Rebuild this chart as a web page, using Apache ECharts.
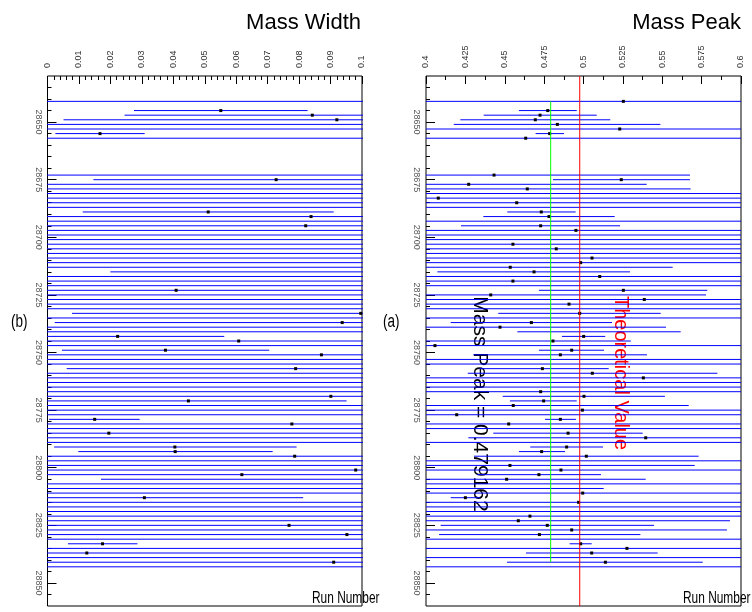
<!DOCTYPE html>
<html>
<head>
<meta charset="utf-8">
<script src="https://cdn.jsdelivr.net/npm/echarts@6/dist/echarts.min.js"></script>
<style>html,body{margin:0;padding:0;background:#fff}#c{width:752px;height:612px}</style>
</head>
<body>
<div id="c"></div>
<script>
// ---------------- data ----------------
const runs = [28641,28645,28647,28649,28651,28653,28655,28657,
  28673,28675,28677,28679,28681,28683,28685,28687,28689,28691,28693,28695,28697,28699,
  28701,28703,28705,28707,28709,28711,28713,28715,28717,28719,28721,28723,28725,28727,28729,
  28731,28733,28735,28737,28739,28741,28743,28745,28747,28749,28751,28753,28755,28757,28759,
  28761,28763,28765,28767,28769,28771,28773,28775,28777,28779,28781,28783,28785,28787,28789,
  28791,28793,28795,28797,28799,28801,28803,28805,28807,28809,28811,28813,28815,28817,28819,
  28821,28823,28825,28827,28829,28831,28833,28835,28837,28839,28841,28843];

// Mass peak (a): value (null = off chart), lower and upper ends of error bar
const peakVal = [0.5253,0.4773,0.4724,0.4694,0.4834,0.523,0.4785,0.4633,
  0.4432,0.524,0.4271,0.4643,null,0.4078,0.4576,null,0.4732,0.4781,null,0.4728,0.4952,null,
  null,0.4552,0.4827,null,0.5054,0.4982,0.4535,0.4686,0.5103,0.4552,null,0.5253,0.4411,0.5386,0.4908,
  null,0.4976,null,0.4669,0.447,null,0.5001,0.4806,0.4057,0.4925,0.4853,null,null,0.4739,0.5056,
  0.538,null,null,0.4728,0.5003,0.4747,0.4554,0.4993,0.4195,0.4853,0.4525,null,0.4902,0.5395,null,
  0.4893,0.4734,0.5018,null,0.4533,0.4857,0.4717,0.4512,null,null,0.4995,0.425,0.4969,null,null,
  0.466,0.4586,0.477,0.4925,0.472,null,0.4982,0.5276,0.5052,null,0.5139,null];
const peakLo = [0.35,0.459,0.4366,0.4218,0.4176,0.35,0.4696,0.35,
  0.3188,0.4806,0.314,0.3606,0.35,0.35,0.35,0.35,0.4516,0.4364,0.35,0.4222,0.35,0.35,
  0.35,0.35,0.35,0.35,0.35,0.35,0.3504,0.4072,0.35,0.35,0.35,0.4717,0.3044,0.35,0.35,
  0.35,0.4459,0.35,0.4157,0.3416,0.458,0.4863,0.35,0.35,0.4717,0.430,0.35,0.35,0.4339,0.4265,
  0.35,0.35,0.35,0.35,0.4487,0.4533,0.344,0.35,0.35,0.4756,0.35,0.35,0.4427,0.4269,0.35,
  0.4662,0.459,0.4305,0.35,0.336,0.35,0.4323,0.3629,0.35,0.35,0.35,0.4157,0.35,0.35,0.35,
  0.35,0.324,0.4093,0.394,0.4083,0.35,0.4912,0.35,0.4635,0.35,0.4514,0.35];
const peakHi = [0.65,0.4957,0.5084,0.517,0.5488,0.65,0.4876,0.65,
  0.5676,0.5676,0.5401,0.568,0.65,0.65,0.65,0.65,0.495,0.5198,0.65,0.5232,0.65,0.65,
  0.65,0.65,0.65,0.65,0.65,0.65,0.5566,0.5295,0.65,0.65,0.65,0.5786,0.5778,0.65,0.65,
  0.65,0.549,0.65,0.5181,0.5524,0.5617,0.5138,0.53,0.65,0.513,0.5403,0.65,0.65,0.516,0.585,
  0.65,0.65,0.65,0.65,0.5517,0.4957,0.5668,0.65,0.65,0.4952,0.65,0.65,0.5376,0.65,0.65,
  0.5124,0.4883,0.5731,0.65,0.5706,0.65,0.5111,0.5395,0.65,0.5128,0.65,0.4345,0.65,0.65,0.65,
  0.65,0.593,0.5448,0.5911,0.5361,0.65,0.5052,0.65,0.5471,0.65,0.5757,0.65];

// Mass width (b)
const widthVal = [null,0.0551,0.0842,0.092,null,null,0.0167,null,
  null,0.0727,null,null,null,null,null,null,0.0511,0.0838,null,0.0821,null,null,
  null,null,null,null,null,null,null,null,null,null,null,0.0409,null,null,null,
  null,0.0996,null,0.0937,null,null,0.0223,0.0608,null,0.0375,0.0871,null,null,0.0789,null,
  null,null,null,null,0.0901,0.0448,null,null,null,0.015,0.0777,null,0.0195,null,null,
  0.0405,0.0406,0.0786,null,null,0.098,0.0618,null,null,null,null,0.0308,null,null,null,
  null,null,0.0768,null,0.0952,null,0.0175,null,0.0125,null,0.091,null];
const widthLo = [-0.05,0.0275,0.0245,0.0051,-0.05,-0.05,0.0025,-0.05,
  -0.05,0.0146,-0.05,-0.05,-0.05,-0.05,-0.05,-0.05,0.0112,-0.05,-0.05,-0.05,-0.05,-0.05,
  -0.05,-0.05,-0.05,-0.05,-0.05,-0.05,-0.05,0.02,-0.05,-0.05,-0.05,-0.05,-0.05,-0.05,-0.05,
  -0.05,0.0078,-0.05,0.0023,-0.05,-0.05,-0.0116,-0.05,-0.05,0.0046,-0.05,-0.05,-0.05,0.0061,-0.05,
  -0.05,-0.05,-0.05,-0.05,-0.05,-0.0055,-0.05,-0.05,-0.05,0.0005,-0.05,-0.05,-0.05,-0.05,-0.05,
  0.0021,0.0098,-0.05,-0.05,-0.05,-0.05,-0.05,0.017,-0.05,-0.05,-0.05,-0.0197,-0.05,-0.05,-0.05,
  -0.05,-0.05,-0.05,-0.05,-0.05,-0.05,0.0065,-0.05,-0.05,-0.05,-0.05,-0.05];
const widthHi = [0.15,0.0827,0.1439,0.179,0.15,0.15,0.0309,0.15,
  0.15,0.1308,0.15,0.15,0.15,0.15,0.15,0.15,0.091,0.15,0.15,0.15,0.15,0.15,
  0.15,0.15,0.15,0.15,0.15,0.15,0.15,0.15,0.15,0.15,0.15,0.15,0.15,0.15,0.15,
  0.15,0.19,0.15,0.185,0.15,0.15,0.0562,0.15,0.15,0.0705,0.15,0.15,0.15,0.1517,0.15,
  0.15,0.15,0.15,0.15,0.15,0.0951,0.15,0.15,0.15,0.0293,0.15,0.15,0.15,0.15,0.15,
  0.0792,0.0716,0.15,0.15,0.15,0.15,0.15,0.15,0.15,0.15,0.15,0.0813,0.15,0.15,0.15,
  0.15,0.15,0.15,0.15,0.15,0.15,0.0286,0.15,0.15,0.15,0.15,0.15];

const theoreticalMass = 0.497614;
const fittedPeak = 0.479162;
const fitRuns = [28641, 28841];
const runRange = [28630, 28860];

const runMajorTicks = [28650,28675,28700,28725,28750,28775,28800,28825,28850];
const runMinorTicks = [28635,28640,28645,28655,28660,28665,28670,28680,28685,28690,28695,
  28705,28710,28715,28720,28730,28735,28740,28745,28755,28760,28765,28770,28780,28785,28790,
  28795,28805,28810,28815,28820,28830,28835,28840,28845,28855];

// ---------------- chart ----------------
const FONT = 'Liberation Sans, Arial, Helvetica, sans-serif';
const chart = echarts.init(document.getElementById('c'), null, {renderer: 'canvas'});

function buildData(vals, los, his) {
  return runs.map((r, i) => [los[i], his[i], r, vals[i] === null ? 0 : 1, vals[i] === null ? los[i] : vals[i]]);
}
function renderErr(params, api) {
  const r = api.value(2);
  const a = api.coord([api.value(0), r]);
  const b = api.coord([api.value(1), r]);
  const children = [{type: 'line', shape: {x1: a[0], y1: a[1], x2: b[0], y2: b[1]},
    style: {stroke: '#0000ff', lineWidth: 1}}];
  if (api.value(3)) {
    const p = api.coord([api.value(4), r]);
    children.push({type: 'rect', shape: {x: p[0] - 1.5, y: p[1] - 1.5, width: 3, height: 3}, style: {fill: '#000'}});
  }
  return {type: 'group', children};
}

const grids = [
  {left: 47.5, right: 390, top: 76, bottom: 6, show: true, borderColor: '#000', borderWidth: 1, backgroundColor: '#fff'},
  {left: 426, right: 11, top: 76, bottom: 6, show: true, borderColor: '#000', borderWidth: 1, backgroundColor: '#fff'}
];
function valueAxis(gi, min, max, interval, minorSplit) {
  return {type: 'value', gridIndex: gi, position: 'top', min, max, interval,
    axisLine: {show: false}, splitLine: {show: false},
    axisTick: {show: true, inside: true, length: 8, lineStyle: {color: '#000'}},
    minorTick: {show: true, splitNumber: minorSplit, length: 4, lineStyle: {color: '#000'}},
    axisLabel: {rotate: -90, margin: 8, fontSize: 9, color: '#333', fontFamily: FONT}};
}
function runAxisMajor(gi) {
  return {type: 'value', gridIndex: gi, position: 'left', inverse: true, min: runRange[0], max: runRange[1],
    axisLine: {show: false}, splitLine: {show: false},
    axisTick: {show: true, inside: true, length: 9, customValues: runMajorTicks, lineStyle: {color: '#000'}},
    axisLabel: {show: true, customValues: runMajorTicks, rotate: -90, margin: 5, fontSize: 9, color: '#555',
      fontFamily: FONT, formatter: v => String(v)}};
}
function runAxisMinor(gi) {
  return {type: 'value', gridIndex: gi, position: 'left', inverse: true, min: runRange[0], max: runRange[1],
    axisLine: {show: false}, splitLine: {show: false},
    axisTick: {show: true, inside: true, length: 4, customValues: runMinorTicks, lineStyle: {color: '#000'}},
    axisLabel: {show: false}};
}

const option = {
  animation: false,
  backgroundColor: '#fff',
  grid: grids,
  xAxis: [valueAxis(0, 0, 0.1, 0.01, 5), valueAxis(1, 0.4, 0.6, 0.025, 2)],
  yAxis: [runAxisMajor(0), runAxisMinor(0), runAxisMajor(1), runAxisMinor(1)],
  series: [
    {type: 'custom', xAxisIndex: 0, yAxisIndex: 0, clip: true, renderItem: renderErr,
      encode: {x: [0, 1, 4], y: 2}, data: buildData(widthVal, widthLo, widthHi), silent: true},
    {type: 'custom', xAxisIndex: 1, yAxisIndex: 2, clip: true, renderItem: renderErr,
      encode: {x: [0, 1, 4], y: 2}, data: buildData(peakVal, peakLo, peakHi), silent: true},
    {type: 'line', xAxisIndex: 1, yAxisIndex: 2, showSymbol: false, silent: true, z: 3,
      lineStyle: {color: '#ff0000', width: 1},
      data: runRange.map(r => [theoreticalMass, r])},
    {type: 'line', xAxisIndex: 1, yAxisIndex: 2, showSymbol: false, silent: true, z: 3,
      lineStyle: {color: '#00ff00', width: 1},
      data: fitRuns.map(r => [fittedPeak, r])}
  ],
  graphic: [
    {type: 'text', right: 752 - 741, top: 12, style: {text: 'Mass Peak', font: '22px ' + FONT, fill: '#000'}},
    {type: 'text', right: 752 - 361, top: 12, style: {text: 'Mass Width', font: '22px ' + FONT, fill: '#000'}},
    {type: 'text', left: 383, top: 313, scaleX: 0.75, style: {text: '(a)', font: '18px ' + FONT, fill: '#000'}},
    {type: 'text', left: 11, top: 313, scaleX: 0.75, style: {text: '(b)', font: '18px ' + FONT, fill: '#000'}},
    {type: 'text', left: 683, top: 590, scaleX: 0.7, style: {text: 'Run Number', font: '17px ' + FONT, fill: '#000'}},
    {type: 'text', left: 312, top: 590, scaleX: 0.7, style: {text: 'Run Number', font: '17px ' + FONT, fill: '#000'}},
    {type: 'text', x: 621, y: 373, rotation: -Math.PI / 2,
      style: {text: 'Theoretical Value', font: '20px ' + FONT, fill: '#ff0000', align: 'center', verticalAlign: 'middle'}},
    {type: 'text', x: 480, y: 404, rotation: -Math.PI / 2,
      style: {text: 'Mass Peak = ' + fittedPeak, font: '21px ' + FONT, fill: '#000', align: 'center', verticalAlign: 'middle'}}
  ]
};
chart.setOption(option);
</script>
</body>
</html>
